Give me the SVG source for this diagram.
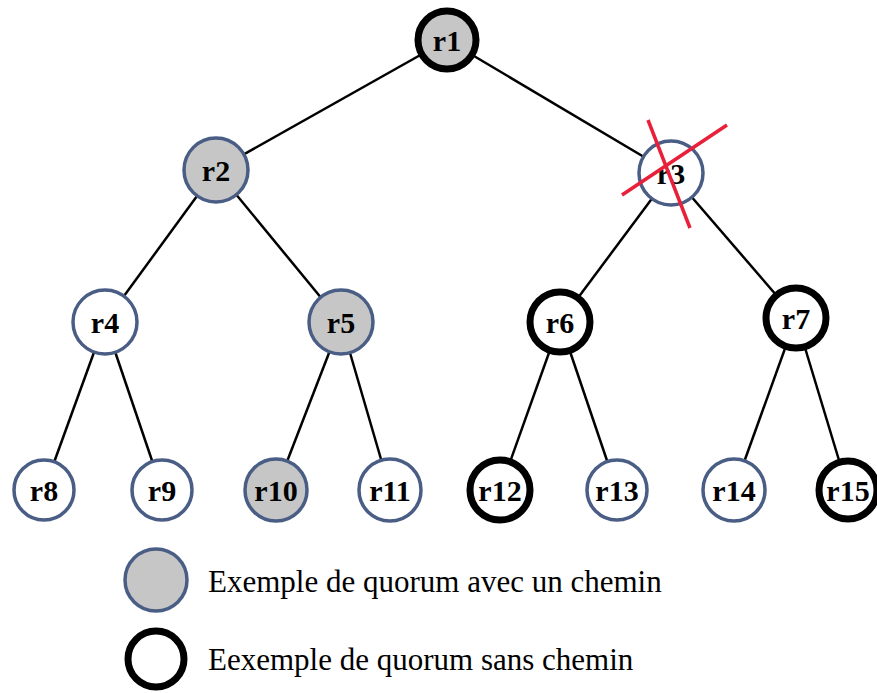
<svg xmlns="http://www.w3.org/2000/svg" width="877" height="693" viewBox="0 0 877 693">
<style>
.edge{stroke:#000;stroke-width:2.5;fill:none}
.n circle{fill:#fff;stroke:#4a5d85;stroke-width:3.5}
.n.gray circle{fill:#c6c6c6}
.n.black circle{stroke:#000;stroke-width:7}
.n text{font-family:"Liberation Serif",serif;font-weight:bold;font-size:30px;text-anchor:middle;fill:#000}
.leg{font-family:"Liberation Serif",serif;font-size:31px;fill:#000}
.cross{stroke:#e8203a;stroke-width:3.5}
</style>
<rect width="877" height="693" fill="#fff"/>
<g id="connectors">
<line class="edge" x1="447" y1="40" x2="216" y2="170"/>
<line class="edge" x1="447" y1="40" x2="671" y2="173"/>
<line class="edge" x1="216" y1="170" x2="105" y2="322"/>
<line class="edge" x1="216" y1="170" x2="341" y2="322"/>
<line class="edge" x1="671" y1="173" x2="560" y2="322"/>
<line class="edge" x1="671" y1="173" x2="796" y2="318"/>
<line class="edge" x1="105" y1="322" x2="44" y2="490"/>
<line class="edge" x1="105" y1="322" x2="162" y2="490"/>
<line class="edge" x1="341" y1="322" x2="276" y2="490"/>
<line class="edge" x1="341" y1="322" x2="390" y2="490"/>
<line class="edge" x1="560" y1="322" x2="500" y2="490"/>
<line class="edge" x1="560" y1="322" x2="617" y2="490"/>
<line class="edge" x1="796" y1="318" x2="734" y2="490"/>
<line class="edge" x1="796" y1="318" x2="848" y2="490"/>
</g>
<g id="r1" class="n gray black"><circle cx="447" cy="40" r="29"/><text x="447" y="51">r1</text></g>
<g id="r2" class="n gray"><circle cx="216" cy="170" r="32"/><text x="216" y="181">r2</text></g>
<g id="r3" class="n"><circle cx="671" cy="173" r="32"/><text x="671" y="184">r3</text>
<line class="cross" x1="648" y1="120" x2="690" y2="228"/><line class="cross" x1="727" y1="125" x2="622" y2="195"/></g>
<g id="r4" class="n"><circle cx="105" cy="322" r="32"/><text x="105" y="333">r4</text></g>
<g id="r5" class="n gray"><circle cx="341" cy="322" r="32"/><text x="341" y="333">r5</text></g>
<g id="r6" class="n black"><circle cx="560" cy="322" r="30"/><text x="560" y="333">r6</text></g>
<g id="r7" class="n black"><circle cx="796" cy="318" r="30"/><text x="796" y="329">r7</text></g>
<g id="r8" class="n"><circle cx="44" cy="490" r="30"/><text x="44" y="501">r8</text></g>
<g id="r9" class="n"><circle cx="162" cy="490" r="30"/><text x="162" y="501">r9</text></g>
<g id="r10" class="n gray"><circle cx="276" cy="490" r="31"/><text x="276" y="501">r10</text></g>
<g id="r11" class="n"><circle cx="390" cy="490" r="31"/><text x="390" y="501">r11</text></g>
<g id="r12" class="n black"><circle cx="500" cy="490" r="30"/><text x="500" y="501">r12</text></g>
<g id="r13" class="n"><circle cx="617" cy="490" r="30"/><text x="617" y="501">r13</text></g>
<g id="r14" class="n"><circle cx="734" cy="490" r="31"/><text x="734" y="501">r14</text></g>
<g id="r15" class="n black"><circle cx="848" cy="490" r="29"/><text x="848" y="501">r15</text></g>
<g id="legend">
<g id="leg-gray" class="n gray"><circle cx="156" cy="580" r="31"/></g>
<text class="leg" x="208" y="592">Exemple de quorum avec un chemin</text>
<g id="leg-black" class="n black"><circle cx="156" cy="659" r="28"/></g>
<text class="leg" x="208" y="670">Eexemple de quorum sans chemin</text>
</g>
</svg>
